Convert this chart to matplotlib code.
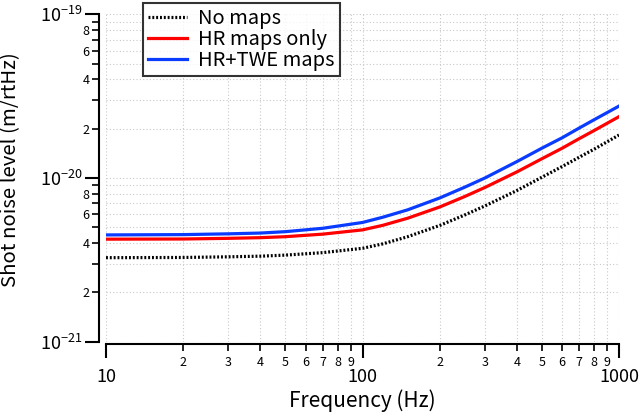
import numpy as np
import matplotlib as mpl
mpl.use("Agg")
import matplotlib.pyplot as plt
from matplotlib.ticker import LogLocator, FuncFormatter

JP = ["Noto Sans CJK JP", "DejaVu Sans"]
mpl.rcParams.update({
    "font.family": JP, "font.size": 12,
    "mathtext.fontset": "custom", "mathtext.rm": "Noto Sans CJK JP",
    "mathtext.it": "Noto Sans CJK JP", "mathtext.bf": "Noto Sans CJK JP",
    "axes.unicode_minus": True,
})

# --- values (Hz, m/rtHz in units of 1e-21) --------------------------------
freq = [10, 20, 30, 40, 50, 70, 100, 120, 150, 200, 250, 300, 400, 500, 600,
        700, 800, 1000]
no_maps = [3.26, 3.27, 3.30, 3.33, 3.38, 3.50, 3.72, 3.96, 4.38, 5.13, 5.94,
           6.75, 8.39, 10.1, 11.75, 13.4, 15.0, 18.3]
hr_only = [4.23, 4.24, 4.28, 4.32, 4.38, 4.54, 4.82, 5.14, 5.68, 6.65, 7.70,
           8.75, 10.9, 13.1, 15.2, 17.4, 19.5, 23.7]
hr_twe = [4.49, 4.51, 4.56, 4.61, 4.70, 4.93, 5.35, 5.76, 6.39, 7.55, 8.78,
          10.0, 12.6, 15.2, 17.6, 20.2, 22.7, 27.5]
labels = ["No maps", "HR maps only", "HR+TWE maps"]

f = np.array(freq)
scale = 1e-21

fig = plt.figure(figsize=(6.41, 4.17), dpi=100)
ax = fig.add_axes([106 / 641, 1 - 341.7 / 417, 513 / 641, 327.4 / 417])

ax.loglog(f, np.array(no_maps) * scale, color="black", lw=2.3,
          ls=(0, (0.6, 0.6)), label=labels[0])
ax.loglog(f, np.array(hr_only) * scale, color="#ff0000", lw=2.3, label=labels[1])
ax.loglog(f, np.array(hr_twe) * scale, color="#0a3cff", lw=2.3, label=labels[2])

ax.set_xlim(10, 1000)
ax.set_ylim(1e-21, 1e-19)


def lead_digit(v):
    return int(round(v / 10 ** np.floor(np.log10(v) + 1e-9)))


# ticks
ax.xaxis.set_major_locator(LogLocator(base=10, numticks=10))
ax.xaxis.set_minor_locator(LogLocator(base=10, subs=np.arange(2, 10), numticks=20))
ax.xaxis.set_major_formatter(FuncFormatter(lambda v, p: f"{v:g}"))
ax.xaxis.set_minor_formatter(FuncFormatter(lambda v, p: str(lead_digit(v))))
ax.yaxis.set_major_locator(LogLocator(base=10, numticks=10))
ax.yaxis.set_minor_locator(LogLocator(base=10, subs=np.arange(2, 10), numticks=20))
ax.yaxis.set_major_formatter(FuncFormatter(
    lambda v, p: r"$10^{%d}$" % int(round(np.log10(v)))))
ax.yaxis.set_minor_formatter(FuncFormatter(
    lambda v, p: str(lead_digit(v)) if lead_digit(v) in (2, 4, 6, 8) else ""))

ax.tick_params(which="major", length=10, width=1.5, labelsize=13, color="black")
ax.tick_params(which="minor", length=5, width=1.2, labelsize=9, color="black")
ax.tick_params(axis="x", which="major", pad=7)
ax.tick_params(axis="x", which="minor", pad=3)
ax.tick_params(axis="y", which="minor", pad=2)
ax.tick_params(axis="y", which="major", pad=2)

for s in ("top", "right"):
    ax.spines[s].set_visible(False)
ax.spines["left"].set_position(("outward", 5))
ax.spines["bottom"].set_position(("outward", 2))
for s in ("left", "bottom"):
    ax.spines[s].set_linewidth(1.5)

ax.grid(True, which="both", color="#c8c8c8", ls=(0, (1, 2)), lw=0.8)
ax.set_axisbelow(True)

ax.set_xlabel("Frequency (Hz)", fontsize=15, labelpad=2)
ax.set_ylabel("Shot noise level (m/rtHz)", fontsize=14.7, labelpad=4)
ax.yaxis.set_label_coords(-0.165, 0.525)

leg = fig.legend(loc="upper left", bbox_to_anchor=(143 / 641, 1 - 3.3 / 417),
                 fontsize=14.5, frameon=True, fancybox=False, borderaxespad=0,
                 handlelength=1.95, handletextpad=0.55, labelspacing=0.0,
                 borderpad=0.25)
leg.get_frame().set_edgecolor("black")
leg.get_frame().set_linewidth(1.5)

fig.savefig("out.png", dpi=100)
